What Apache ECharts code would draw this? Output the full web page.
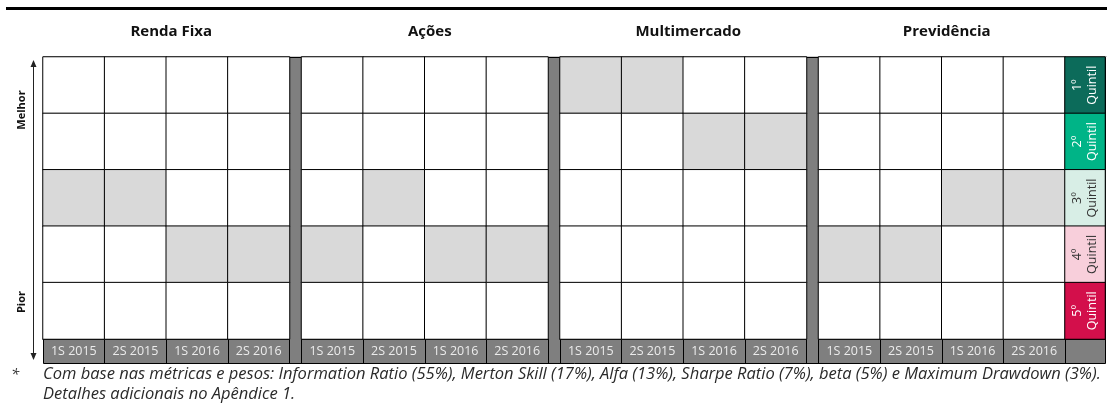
<!DOCTYPE html>
<html><head><meta charset="utf-8">
<script src="https://cdn.jsdelivr.net/npm/echarts@6/dist/echarts.min.js"></script>
<style>html,body{margin:0;padding:0;background:#fff}#c{width:1107px;height:406px}</style>
</head><body><div id="c"></div>
<script>
const groups = ['Renda Fixa', 'Ações', 'Multimercado', 'Previdência'];
const periods = ['1S 2015', '2S 2015', '1S 2016', '2S 2016'];
const quintiles = ['1º', '2º', '3º', '4º', '5º'];
// quintile (1 = best) reached by each group in each period
const rendaFixa = [3, 3, 4, 4];
const acoes = [4, 3, 4, 4];
const multimercado = [1, 1, 2, 2];
const previdencia = [4, 4, 3, 3];
const ranks = [rendaFixa, acoes, multimercado, previdencia];
const quintileColors = ['#0c6b5a', '#00b487', '#d8eee6', '#f8cfdb', '#d30f4b'];
const quintileTextColors = ['#ffffff', '#ffffff', '#333333', '#333333', '#ffffff'];
const footnote1 = 'Com base nas métricas e pesos: Information Ratio (55%), Merton Skill (17%), Alfa (13%), Sharpe Ratio (7%), beta (5%) e Maximum Drawdown (3%).';
const footnote2 = 'Detalhes adicionais no Apêndice 1.';

const FONT = '"Open Sans", "Noto Sans", sans-serif';
const X0 = 43, TOP = 57, H = 282, BAND = 24, GW = 246.5, SEP = 12, QW = 40;

const grids = [], xAxes = [], yAxes = [], series = [], titles = [];
groups.forEach((g, i) => {
  const left = X0 + i * (GW + SEP);
  grids.push({left: left, top: TOP, width: GW, height: H});
  xAxes.push({type: 'category', gridIndex: i, data: periods, position: 'bottom',
    axisLine: {show: true, lineStyle: {color: '#000', width: 1}},
    axisTick: {show: true, length: BAND, lineStyle: {color: '#000', width: 1}},
    axisLabel: {color: '#ececec', fontSize: 12.5, fontFamily: FONT, margin: 6},
    splitLine: {show: false}});
  yAxes.push({type: 'category', gridIndex: i, data: quintiles, inverse: true,
    axisLine: {show: false}, axisTick: {show: false}, axisLabel: {show: false}});
  const data = [];
  periods.forEach((p, pi) => {
    quintiles.forEach((q, qi) => {
      data.push([pi, qi, ranks[i][pi] === qi + 1 ? 1 : 0]);
    });
  });
  series.push({type: 'heatmap', xAxisIndex: i, yAxisIndex: i, data: data,
    itemStyle: {borderColor: '#000', borderWidth: 1}, emphasis: {disabled: true}});
  titles.push({text: g, left: left + GW / 2, top: 19, textAlign: 'center',
    textStyle: {fontSize: 15, fontWeight: 'bold', fontFamily: FONT, color: '#111'}});
});
// quintile legend column
const qi = groups.length;
grids.push({left: X0 + 4 * GW + 3 * SEP, top: TOP, width: QW, height: H});
xAxes.push({type: 'category', gridIndex: qi, data: [''], position: 'bottom',
  axisLine: {show: true, lineStyle: {color: '#000'}},
  axisTick: {show: true, length: BAND, lineStyle: {color: '#000'}},
  axisLabel: {show: false}});
yAxes.push({type: 'category', gridIndex: qi, data: quintiles, inverse: true,
  axisLine: {show: false}, axisTick: {show: false}, axisLabel: {show: false}});
series.push({type: 'heatmap', xAxisIndex: qi, yAxisIndex: qi,
  data: quintiles.map((q, k) => ({value: [0, k, 11 + k],
    label: {color: quintileTextColors[k]}})),
  itemStyle: {borderColor: '#000', borderWidth: 1}, emphasis: {disabled: true},
  label: {show: true, rotate: 90, fontSize: 12.5, fontFamily: FONT, lineHeight: 15,
    formatter: p => quintiles[p.value[1]] + '\nQuintil'}});

const pieces = [{value: 0, color: '#ffffff'}, {value: 1, color: '#d9d9d9'}]
  .concat(quintileColors.map((c, k) => ({value: 11 + k, color: c})));

const chart = echarts.init(document.getElementById('c'), null, {renderer: 'canvas'});
chart.setOption({
  animation: false,
  title: titles,
  grid: grids,
  xAxis: xAxes,
  yAxis: yAxes,
  visualMap: {type: 'piecewise', show: false, dimension: 2, pieces: pieces,
    seriesIndex: series.map((s, k) => k)},
  series: series,
  graphic: [
    {type: 'rect', z: -10, shape: {x: 6, y: 7, width: 1101, height: 3}, style: {fill: '#000'}},
    {type: 'line', z: -10, shape: {x1: 43, y1: 56.5, x2: 1107, y2: 56.5}, style: {stroke: '#cfcfcf', lineWidth: 1}},
    {type: 'rect', z: -10, shape: {x: 43.5, y: 57.5, width: 1062, height: 306}, style: {fill: '#7f7f7f', stroke: '#000', lineWidth: 1}},
    {type: 'line', shape: {x1: 33.5, y1: 66, x2: 33.5, y2: 354}, style: {stroke: '#222', lineWidth: 1}},
    {type: 'polygon', shape: {points: [[30.5, 67], [36.5, 67], [33.5, 60]]}, style: {fill: '#222'}},
    {type: 'polygon', shape: {points: [[30.5, 353], [36.5, 353], [33.5, 360]]}, style: {fill: '#222'}},
    {type: 'text', x: 22, y: 110, rotation: Math.PI / 2,
      style: {text: 'Melhor', fill: '#111', font: 'bold 11px ' + FONT, align: 'center', verticalAlign: 'middle'}},
    {type: 'text', x: 22, y: 302, rotation: Math.PI / 2,
      style: {text: 'Pior', fill: '#111', font: 'bold 11px ' + FONT, align: 'center', verticalAlign: 'middle'}},
    {type: 'text', x: 11, y: 367,
      style: {text: '*', fill: '#333', font: 'italic 15px ' + FONT}},
    {type: 'text', x: 43, y: 366,
      style: {text: footnote1, fill: '#2a2a2a', font: 'italic 16.5px ' + FONT}},
    {type: 'text', x: 43, y: 386,
      style: {text: footnote2, fill: '#2a2a2a', font: 'italic 16.5px ' + FONT}}
  ]
});
</script></body></html>
